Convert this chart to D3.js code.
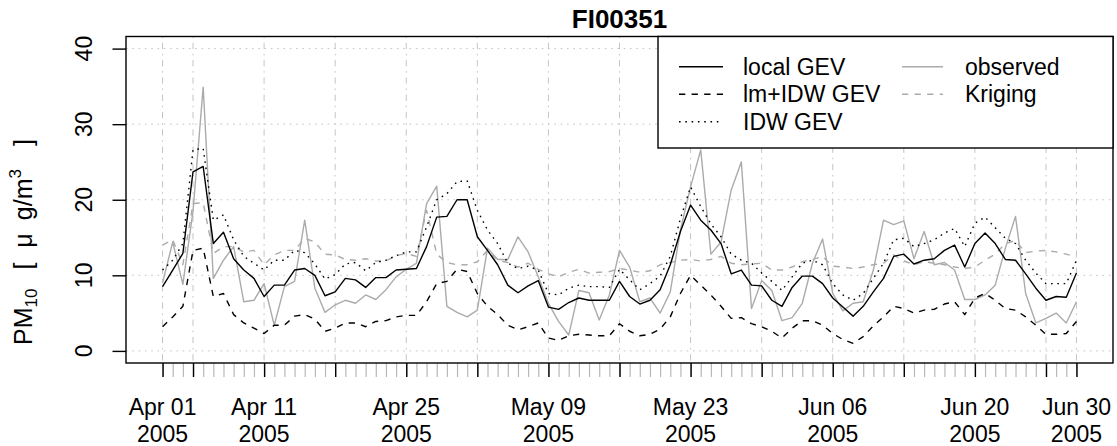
<!DOCTYPE html>
<html>
<head>
<meta charset="utf-8">
<script src="https://cdn.jsdelivr.net/npm/d3@7"></script>
<style>
  html, body { margin: 0; padding: 0; background: #fff; }
  svg { display: block; font-family: "Liberation Sans", Arial, Helvetica, sans-serif; }
</style>
</head>
<body>
<svg id="chart" width="1117" height="446"></svg>
<script>
// Daily PM10 at station FI00351, 1 Apr – 30 Jun 2005
const stationName = "FI00351";
const startDay = Date.UTC(2005, 3, 1);
const endDay = Date.UTC(2005, 5, 30);

const localGEV = [8.5,10.7,12.9,23.7,24.4,14.2,15.7,12.2,10.7,9.6, 7.2,8.7,8.7,10.7,10.9,10.0,7.3,7.8,9.6,9.4,
  8.4,9.7,9.7,10.7,10.8,10.9,13.8,17.7,17.8,20.0, 20.0,15.1,13.3,11.4,8.7,7.7,8.6,9.3,5.8,5.5,
  6.4,7.0,6.7,6.7,6.7,9.2,7.2,6.2,6.7,8.1, 11.4,15.8,19.3,17.3,16.0,14.2,10.2,10.7,8.7,8.6,
  6.7,5.9,8.4,9.9,9.9,8.9,7.0,5.8,4.6,5.9, 7.8,9.6,12.5,12.8,11.5,12.0,12.2,13.3,14.0,11.1,
  14.2,15.6,14.2,12.1,12.0,10.2,8.3,6.7,7.2,7.1, 10.3];

const lmIdwGEV = [3.2,4.5,5.9,13.3,13.6,7.2,7.6,4.8,3.7,3.0, 2.3,3.4,3.4,4.6,4.8,4.2,2.6,3.0,3.7,3.7,
  3.2,3.9,4.0,4.5,4.7,4.7,6.5,8.9,9.2,10.8, 10.5,7.6,5.9,4.8,3.4,2.8,3.2,3.7,1.7,1.4,
  2.0,2.2,2.1,2.0,2.0,3.6,2.6,2.0,2.2,2.9, 4.5,7.6,10.0,8.7,7.4,5.9,4.3,4.4,3.6,3.2,
  2.6,1.7,3.0,4.0,4.0,3.4,2.3,1.5,1.0,1.9, 3.3,4.5,5.9,5.6,5.0,5.4,5.5,6.2,6.5,4.8,
  7.0,7.6,6.7,5.6,5.4,4.5,3.4,2.2,2.2,2.3, 3.9];

const idwGEV = [10.7,12.0,14.2,26.6,26.8,17.3,18.0,14.7,12.5,11.6, 10.7,12.0,12.0,13.3,13.0,11.5,9.5,10.1,11.5,11.7,
  10.6,11.7,12.0,12.6,13.1,13.1,16.4,20.0,20.8,22.4, 22.5,18.6,16.0,14.2,11.6,10.9,11.2,10.7,7.6,7.4,
  8.3,8.7,8.5,8.5,8.4,10.8,9.4,8.1,8.9,9.9, 12.5,17.5,21.7,19.1,16.8,15.1,12.8,12.0,11.6,10.3,
  9.2,8.0,9.8,11.6,12.0,11.4,8.9,7.4,6.7,7.6, 9.6,11.6,14.7,14.9,13.8,14.2,14.7,15.6,16.2,13.8,
  16.9,17.7,16.3,14.9,14.2,12.0,10.3,8.9,8.9,8.9, 12.0];

const observed = [9.0,14.4,8.8,18.5,34.9,9.6,12.0,13.8,6.5,6.7, 8.9,3.4,8.5,9.2,17.3,8.3,5.1,6.1,6.7,6.3,
  7.4,6.8,8.1,9.8,10.8,11.6,19.5,21.8,5.9,5.1, 4.5,5.4,13.6,12.1,12.1,15.1,13.1,9.8,6.3,3.9,
  2.1,8.0,7.7,4.1,7.4,13.3,11.1,6.5,7.0,5.0, 7.8,16.0,21.7,26.6,12.8,14.4,21.3,25.0,5.6,9.3,
  8.0,4.0,4.4,6.3,11.6,14.8,7.6,5.3,6.3,6.5, 10.7,17.3,16.7,17.2,12.2,15.8,11.4,11.7,10.7,6.8,
  6.8,7.4,8.7,13.6,17.8,7.6,3.7,4.3,5.0,3.7, 6.5];

const kriging = [14.0,14.7,11.4,19.5,19.6,12.9,13.8,13.8,13.1,13.3, 11.4,12.7,13.3,13.3,14.9,14.4,12.8,12.7,12.1,12.0,
  12.2,11.9,11.9,12.6,12.9,12.5,18.6,12.8,11.7,11.4, 11.4,11.8,13.3,12.0,11.7,11.1,11.6,10.8,10.2,9.8,
  10.4,10.8,10.3,10.4,10.5,10.9,10.7,10.4,10.6,11.4, 11.7,12.0,12.1,11.9,12.1,12.5,11.6,11.4,11.5,11.6,
  10.7,10.7,11.1,11.8,12.1,12.5,11.2,11.1,10.9,11.1, 11.4,11.6,12.7,11.9,11.4,11.8,11.6,11.4,11.1,10.9,
  11.1,12.0,12.8,14.2,14.6,13.0,13.2,13.3,13.1,12.8, 12.4];

const yTicks = [0, 10, 20, 30, 40];
const labelledDates = ["2005-04-01","2005-04-11","2005-04-25","2005-05-09","2005-05-23","2005-06-06","2005-06-20","2005-06-30"];

// ---- layout ----
const svg = d3.select("#chart");
const box = { left: 126, right: 1113, top: 36.5, bottom: 363 };
const dayMs = 864e5;
const pad = 0.04 * (endDay - startDay);

const days = d3.utcDays(startDay, endDay + dayMs);
const x = d3.scaleUtc()
  .domain([new Date(startDay - pad), new Date(endDay + pad)])
  .range([box.left, box.right]);
const y = d3.scaleLinear()
  .domain([-1.6, 41.6])
  .range([box.bottom, box.top]);

// weekly (Monday) ticks plus both end days
const majorDates = [new Date(startDay)]
  .concat(d3.utcMonday.range(new Date(startDay + dayMs), new Date(endDay)))
  .concat([new Date(endDay)]);

const fmtKey = d3.utcFormat("%Y-%m-%d");
const fmtDay = d3.utcFormat("%b %d");
const fmtYear = d3.utcFormat("%Y");

// ---- grid ----
const gridColor = "#c4c4c4";
svg.append("g").selectAll("line").data(yTicks).join("line")
  .attr("x1", box.left).attr("x2", box.right)
  .attr("y1", d => y(d)).attr("y2", d => y(d))
  .attr("stroke", gridColor).attr("stroke-width", 1)
  .attr("stroke-dasharray", "1.6,4.7");

svg.append("g").selectAll("line").data(majorDates).join("line")
  .attr("x1", d => x(d)).attr("x2", d => x(d))
  .attr("y1", box.top).attr("y2", box.bottom)
  .attr("stroke", gridColor).attr("stroke-width", 1)
  .attr("stroke-dasharray", "1.6,4.7,6.3,4.7");

// ---- series ----
const series = [
  { name: "observed", values: observed, color: "#ababab", dash: null },
  { name: "Kriging", values: kriging, color: "#ababab", dash: "6.3,6.3" },
  { name: "lm+IDW GEV", values: lmIdwGEV, color: "#000", dash: "6.3,6.3" },
  { name: "IDW GEV", values: idwGEV, color: "#000", dash: "1.6,4.7" },
  { name: "local GEV", values: localGEV, color: "#000", dash: null }
];

const line = d3.line()
  .x((d, i) => x(days[i]))
  .y(d => y(d));

svg.append("g").selectAll("path").data(series).join("path")
  .attr("d", s => line(s.values))
  .attr("fill", "none")
  .attr("stroke", s => s.color)
  .attr("stroke-width", 1.4)
  .attr("stroke-linejoin", "round")
  .attr("stroke-dasharray", s => s.dash);

// ---- axes ----
const xMinor = d3.axisBottom(x).tickValues(days).tickSize(14).tickFormat("");
svg.append("g").attr("transform", `translate(0,${box.bottom})`).call(xMinor)
  .call(g => g.select(".domain").remove())
  .call(g => g.selectAll(".tick line").attr("stroke", "#b8b8b8").attr("stroke-width", 1.2));

const xMajor = d3.axisBottom(x).tickValues(majorDates).tickSize(14).tickFormat("");
svg.append("g").attr("transform", `translate(0,${box.bottom})`).call(xMajor)
  .call(g => g.select(".domain").remove())
  .call(g => g.selectAll(".tick line").attr("stroke", "#000").attr("stroke-width", 1.4));

const labelled = majorDates.filter(d => labelledDates.includes(fmtKey(d)));
const xl = svg.append("g").attr("font-size", 23).attr("text-anchor", "middle").attr("fill", "#000");
xl.selectAll("text.d").data(labelled).join("text").attr("class", "d")
  .attr("x", d => x(d)).attr("y", 415).text(d => fmtDay(d));
xl.selectAll("text.yr").data(labelled).join("text").attr("class", "yr")
  .attr("x", d => x(d)).attr("y", 442).text(d => fmtYear(d));

const yAxis = d3.axisLeft(y).tickValues(yTicks).tickSize(13.5).tickFormat("");
svg.append("g").attr("transform", `translate(${box.left},0)`).call(yAxis)
  .call(g => g.select(".domain").remove())
  .call(g => g.selectAll(".tick line").attr("stroke", "#000").attr("stroke-width", 1.4));

svg.append("g").selectAll("text").data(yTicks).join("text")
  .attr("transform", d => `translate(92,${y(d)}) rotate(-90)`)
  .attr("text-anchor", "middle").attr("font-size", 23).text(d => d);

// plot frame
svg.append("rect")
  .attr("x", box.left).attr("y", box.top)
  .attr("width", box.right - box.left).attr("height", box.bottom - box.top)
  .attr("fill", "none").attr("stroke", "#000").attr("stroke-width", 1.4);

// y label: PM10 [ μ g/m3 ]
const yl = svg.append("text")
  .attr("transform", "translate(32,345) rotate(-90)")
  .attr("text-anchor", "start").attr("font-size", 25);
yl.append("tspan").text("PM");
yl.append("tspan").attr("font-size", 17).attr("dy", 5).text("10");
yl.append("tspan").attr("dx", 19).attr("dy", -5).text("[");
yl.append("tspan").attr("dx", 15).text("\u03bc");
yl.append("tspan").attr("dx", 13).text("g/m");
yl.append("tspan").attr("font-size", 17).attr("dy", -11).text("3");
yl.append("tspan").attr("dx", 23).attr("dy", 11).text("]");

// title
svg.append("text").attr("x", (box.left + box.right) / 2).attr("y", 28)
  .attr("text-anchor", "middle").attr("font-size", 26).attr("font-weight", "bold")
  .text(stationName);

// ---- legend ----
const lg = svg.append("g");
lg.append("rect").attr("x", 658).attr("y", box.top)
  .attr("width", box.right - 658).attr("height", 148 - box.top)
  .attr("fill", "#fff").attr("stroke", "#000").attr("stroke-width", 1.4);

const legendItems = [
  { s: series[4], col: 0, row: 0 },
  { s: series[2], col: 0, row: 1 },
  { s: series[3], col: 0, row: 2 },
  { s: series[0], col: 1, row: 0 },
  { s: series[1], col: 1, row: 1 }
];
const colX = [{ l1: 679, l2: 723, t: 743 }, { l1: 902, l2: 943, t: 965 }];
const rowY = [66.7, 94.3, 121.7];
const items = lg.selectAll("g.item").data(legendItems).join("g").attr("class", "item");
items.append("line")
  .attr("x1", d => colX[d.col].l1).attr("x2", d => colX[d.col].l2)
  .attr("y1", d => rowY[d.row]).attr("y2", d => rowY[d.row])
  .attr("stroke", d => d.s.color).attr("stroke-width", 1.4)
  .attr("stroke-dasharray", d => d.s.dash);
items.append("text")
  .attr("x", d => colX[d.col].t).attr("y", d => rowY[d.row] + 8)
  .attr("font-size", 23).text(d => d.s.name);
</script>
</body>
</html>
